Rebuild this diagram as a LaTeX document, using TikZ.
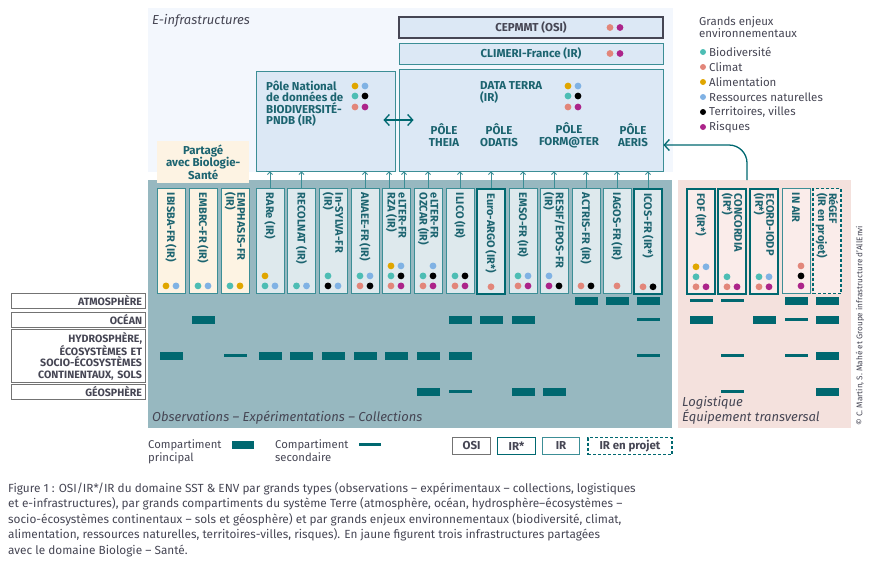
\documentclass[tikz,border=0pt]{standalone}
\usepackage{fontspec}
\setmainfont{Fira Sans}
\usepackage{graphicx}
\usetikzlibrary{arrows.meta, positioning, calc}
\definecolor{sstTeal}{RGB}{0,104,112}
\definecolor{sstLine}{RGB}{60,142,150}
\definecolor{sstText}{RGB}{28,100,112}
\definecolor{sstGrey}{RGB}{70,70,84}
\definecolor{sstEinfra}{RGB}{243,247,253}
\definecolor{sstBox}{RGB}{220,232,245}
\definecolor{sstObs}{RGB}{151,184,192}
\definecolor{sstCol}{RGB}{222,233,237}
\definecolor{sstCream}{RGB}{253,243,227}
\definecolor{sstLogi}{RGB}{244,225,221}
\definecolor{sstLogiCol}{RGB}{250,236,234}
\definecolor{eBio}{RGB}{77,189,180}
\definecolor{eCli}{RGB}{226,134,122}
\definecolor{eAli}{RGB}{224,166,0}
\definecolor{eRes}{RGB}{128,178,228}
\definecolor{eTer}{RGB}{0,0,0}
\definecolor{eRis}{RGB}{172,36,138}
\newcommand{\lblfont}{\bfseries\fontsize{11.5}{12}\selectfont}
\newcommand{\vtxt}[1]{\rotatebox{-90}{\parbox{96pt}{\raggedright #1}}}
\newcommand{\pastilles}[2]{\foreach \col/\dx/\dy in {#2} \fill[\col] ($(#1.south)+(\dx,\dy)$) circle (3.4pt);}

\begin{document}
\begin{tikzpicture}[x=1pt, y=-1pt,
        area/.style={rectangle, inner sep=0, anchor=north west},
        ebox/.style={rectangle, fill=sstBox, draw=sstLine, line width=0.9pt, inner sep=0,
                     font=\lblfont, text=sstText},
        colbox/.style={rectangle, minimum width=28pt, minimum height=105pt, inner sep=0, anchor=north,
                       font=\bfseries\fontsize{11}{11}\selectfont, text=sstText},
        ir/.style={draw=sstLine, line width=0.9pt},
        irstar/.style={draw=sstTeal, line width=1.8pt},
        projet/.style={draw=sstTeal, line width=1.3pt, dash pattern=on 3pt off 2pt},
        osi/.style={draw=sstGrey, line width=1.2pt},
        comp/.style={rectangle, draw=black!55, line width=0.9pt, fill=white, anchor=north east,
                     minimum width=134pt, text width=127pt, align=right, inner sep=0,
                     font=\bfseries\fontsize{10.6}{11.5}\selectfont, text=sstGrey},
        main/.style={fill=sstTeal, minimum width=23pt, minimum height=8pt, inner sep=0},
        sec/.style={fill=sstTeal, minimum width=23pt, minimum height=3pt, inner sep=0},
        up/.style={-{Straight Barb[length=2.5pt,width=5pt]}, sstLine, line width=0.9pt},
        link/.style={{Straight Barb[length=5pt,width=11pt]}-{Straight Barb[length=5pt,width=11pt]},
                     sstTeal, line width=1.3pt},
        titre/.style={font=\itshape\fontsize{13}{15}\selectfont, text=sstGrey, inner sep=0, anchor=west},
        lbl/.style={font=\lblfont, text=sstText, inner sep=0},
        legbox/.style={rectangle, fill=white, minimum height=17pt, inner sep=0, font=\lblfont, text=sstGrey},
        legtxt/.style={anchor=north west, align=left, inner sep=0, font=\fontsize{11.3}{13}\selectfont, text=sstGrey}
    ]
    \useasboundingbox (0,0) rectangle (875,566);

    % Fonds
    \node[area, fill=sstEinfra, minimum width=525pt, minimum height=164pt] (einfra) at (148,8) {};
    \node[area, fill=sstObs, minimum width=524pt, minimum height=248pt] (obs) at (148,180) {};
    \node[area, fill=sstLogi, minimum width=173pt, minimum height=248pt] (logi) at (678,180) {};
    \node[area, fill=sstCream, minimum width=92pt, minimum height=42pt, align=center,
          font=\bfseries\fontsize{11.5}{12.5}\selectfont, text=sstText] (partage) at (157,141) {Partagé\\avec Biologie-\\Santé};

    \node[titre] (einfra-t) at (152,21) {E-infrastructures};
    \node[titre] (obs-t) at (152,418) {Observations – Expérimentations – Collections};
    \node[titre, align=left] (logi-t) at (682,410.5) {Logistique\\Équipement transversal};

    % E-infrastructures
    \node[ebox, osi, minimum width=264pt, minimum height=21pt, text=sstGrey] (cepmmt) at (531,27.5) {CEPMMT (OSI)};
    \node[ebox, minimum width=264pt, minimum height=21pt] (climeri) at (531,53.5) {CLIMERI-France (IR)};
    \node[ebox, minimum width=264pt, minimum height=102pt] (terra) at (531,120) {};
    \node[ebox, minimum width=139pt, minimum height=100pt] (pndb) at (325.5,121) {};
    \node[lbl, anchor=north west, align=left] (terra-t) at (480,81) {DATA TERRA\\(IR)};
    \node[lbl, anchor=north west, align=left, font=\bfseries\fontsize{11.5}{11.3}\selectfont] (pndb-t) at (266,81)
        {Pôle National\\de données de\\BIODIVERSITÉ-\\PNDB (IR)};
    \node[lbl, align=center] (theia) at (444,135) {PÔLE\\THEIA};
    \node[lbl, align=center] (odatis) at (499,135) {PÔLE\\ODATIS};
    \node[lbl, align=center] (formater) at (569,135) {PÔLE\\FORM@TER};
    \node[lbl, align=center] (aeris) at (633,135) {PÔLE\\AERIS};

    \foreach \col/\x/\y in {eCli/610/27.5, eRis/620/27.5, eCli/610/53.5, eRis/620/53.5,
                            eAli/568/86, eRes/578/86, eBio/568/96, eTer/578/96, eCli/568/107, eRis/578/107,
                            eAli/355/86, eRes/365/86, eBio/355/96, eTer/365/96, eCli/355/107, eRis/365/107}
        \fill[\col] (\x,\y) circle (3.4pt);

    \draw[link] ($(pndb.east |- 0,120)+(-12,0)$) -- ($(terra.west |- 0,120)+(15,0)$);

    % Observations - Experimentations - Collections
    \node[colbox, ir, fill=sstCream] (ibisba) at (171,188) {\vtxt{IBISBA-FR (IR)}};
    \node[colbox, ir, fill=sstCream] (embrc) at (203,188) {\vtxt{EMBRC-FR (IR)}};
    \node[colbox, ir, fill=sstCream] (emphasis) at (235,188) {\vtxt{EMPHASIS-FR\\(IR)}};
    \node[colbox, ir, fill=sstCol] (rare) at (270,188) {\vtxt{RARe (IR)}};
    \node[colbox, ir, fill=sstCol] (recolnat) at (301.5,188) {\vtxt{RECOLNAT (IR)}};
    \node[colbox, ir, fill=sstCol] (insylva) at (333,188) {\vtxt{In-SYLVA-FR\\(IR)}};
    \node[colbox, ir, fill=sstCol] (anaee) at (365,188) {\vtxt{ANAEE-FR (IR)}};
    \node[colbox, ir, fill=sstCol] (rza) at (396,188) {\vtxt{eLTER-FR\\RZA (IR)}};
    \node[colbox, ir, fill=sstCol] (ozcar) at (428,188) {\vtxt{eLTER-FR\\OZCAR (IR)}};
    \node[colbox, ir, fill=sstCol] (ilico) at (460,188) {\vtxt{ILICO (IR)}};
    \node[colbox, irstar, fill=sstCol] (argo) at (491,188) {\vtxt{Euro-ARGO (IR*)}};
    \node[colbox, ir, fill=sstCol] (emso) at (523,188) {\vtxt{EMSO-FR (IR)}};
    \node[colbox, ir, fill=sstCol] (resif) at (554,188) {\vtxt{RESIF/EPOS-FR\\(IR)}};
    \node[colbox, ir, fill=sstCol] (actris) at (586,188) {\vtxt{ACTRIS-FR (IR)}};
    \node[colbox, ir, fill=sstCol] (iagos) at (617,188) {\vtxt{IAGOS-FR (IR)}};
    \node[colbox, irstar, fill=sstCol] (icos) at (648,188) {\vtxt{ICOS-FR (IR*)}};

    % Logistique
    \node[colbox, irstar, fill=sstLogiCol] (fof) at (701,188) {\vtxt{FOF (IR*)}};
    \node[colbox, irstar, fill=sstLogiCol] (concordia) at (732,188) {\vtxt{CONCORDIA\\(IR*)}};
    \node[colbox, irstar, fill=sstLogiCol] (ecord) at (764,188) {\vtxt{ECORD-IODP\\(IR*)}};
    \node[colbox, ir, fill=sstLogiCol] (inair) at (796,188) {\vtxt{IN AIR}};
    \node[colbox, projet, fill=sstLogiCol] (regef) at (827,188) {\vtxt{RéGEF\\(IR en projet)}};

    % Grands enjeux par infrastructure
    \pastilles{ibisba}{eAli/-5/-8, eRes/5/-8}
    \pastilles{embrc}{eBio/-5/-8, eRes/5/-8}
    \pastilles{emphasis}{eBio/-5/-8, eAli/5/-8}
    \pastilles{rare}{eAli/-5/-18, eBio/-5/-8, eRes/5/-8}
    \pastilles{recolnat}{eBio/-5/-8, eRes/5/-8}
    \pastilles{insylva}{eBio/-5/-18, eTer/-5/-8, eRes/5/-8}
    \pastilles{anaee}{eBio/-5/-18, eRes/5/-18, eCli/-5/-8, eTer/5/-8}
    \pastilles{rza}{eAli/-5/-28, eRes/5/-28, eBio/-5/-18, eTer/5/-18, eCli/-5/-8, eRis/5/-8}
    \pastilles{ozcar}{eRes/5/-28, eBio/-5/-18, eTer/5/-18, eCli/-5/-8, eRis/5/-8}
    \pastilles{ilico}{eBio/-5/-18, eTer/5/-18, eCli/-5/-8, eRis/5/-8}
    \pastilles{argo}{eCli/0/-8}
    \pastilles{emso}{eBio/-5/-18, eRes/5/-18, eCli/-5/-8, eRis/5/-8}
    \pastilles{resif}{eRes/-5/-18, eRis/-5/-8, eTer/5/-8}
    \pastilles{actris}{eCli/-5/-8, eTer/5/-8}
    \pastilles{iagos}{eCli/0/-8}
    \pastilles{icos}{eCli/-5/-8, eTer/5/-8}
    \pastilles{fof}{eAli/-5/-28, eRes/5/-28, eBio/-5/-18, eCli/-5/-8, eRis/5/-8}
    \pastilles{concordia}{eBio/-5/-18, eCli/-5/-8, eRis/5/-8}
    \pastilles{ecord}{eBio/-5/-18, eRes/5/-18, eCli/-5/-8, eRis/5/-8}
    \pastilles{inair}{eCli/5/-28, eTer/5/-18, eRis/5/-8}

    % Liens vers les e-infrastructures
    \foreach \c in {rare, recolnat, anaee}
        \draw[up] (\c.north) -- (pndb.south -| \c.north);
    \draw[up] ($(rza.north)+(-7,0)$) -- ($(pndb.south -| rza.north)+(-7,0)$);
    \draw[up] ($(rza.north)+(8,0)$) -- ($(terra.south -| rza.north)+(8,0)$);
    \foreach \c in {ozcar, ilico, argo, emso, resif, actris, iagos, icos}
        \draw[up] (\c.north) -- (terra.south -| \c.north);
    \coordinate (logi-out) at (747,180);
    \draw[-{Straight Barb[length=5pt,width=11pt]}, sstTeal, line width=1.3pt, rounded corners=18pt]
        (logi-out) |- (terra.east |- 0,145);

    % Compartiments
    \node[comp, minimum height=15pt] (atmo) at (146,293) {ATMOSPHÈRE};
    \node[comp, minimum height=15pt] (ocean) at (146,312) {OCÉAN};
    \node[comp, minimum height=53pt] (hydro) at (146,329) {HYDROSPHÈRE,\\ÉCOSYSTÈMES ET\\SOCIO-ÉCOSYSTÈMES\\CONTINENTAUX, SOLS};
    \node[comp, minimum height=15pt] (geo) at (146,384) {GÉOSPHÈRE};

    \foreach \c/\r in {actris/atmo, iagos/atmo, icos/atmo, inair/atmo, regef/atmo,
                       embrc/ocean, ilico/ocean, argo/ocean, emso/ocean, fof/ocean, ecord/ocean, regef/ocean,
                       ibisba/hydro, rare/hydro, recolnat/hydro, insylva/hydro, anaee/hydro, rza/hydro,
                       ozcar/hydro, ilico/hydro, regef/hydro,
                       ozcar/geo, emso/geo, resif/geo, regef/geo}
        \node[main] (\c-\r) at (\c |- \r) {};
    \foreach \c/\r in {fof/atmo, concordia/atmo, icos/ocean, inair/ocean, emphasis/hydro, icos/hydro,
                       concordia/hydro, inair/hydro, ilico/geo, concordia/geo}
        \node[sec] (\c-\r) at (\c |- \r) {};

    % Grands enjeux
    \node[anchor=north west, align=left, inner sep=0, font=\fontsize{11.5}{12}\selectfont, text=sstGrey]
        (enjeux) at (699,16) {Grands enjeux\\environnementaux};
    \foreach \col/\t [count=\i] in {eBio/Biodiversité, eCli/Climat, eAli/Alimentation,
                                    eRes/Ressources naturelles, eTer/{Territoires, villes}, eRis/Risques} {
        \fill[\col] (703,{37+15*\i}) circle (3pt);
        \node[anchor=west, inner sep=0, font=\fontsize{11.5}{12}\selectfont, text=sstGrey] (enjeu-\i) at (709,{37+15*\i}) {\t};
    }

    % Legende
    \node[legtxt] (leg-principal) at (148,439) {Compartiment\\principal};
    \node[main, minimum width=22pt] (leg-main) at (243,445) {};
    \node[legtxt] (leg-secondaire) at (275,439) {Compartiment\\secondaire};
    \node[sec, minimum width=22pt] (leg-sec) at (369.5,444) {};
    \node[legbox, draw=black!55, line width=1pt, minimum width=38pt] (leg-osi) at (471.5,446) {OSI};
    \node[legbox, irstar, minimum width=38pt] (leg-irstar) at (516.5,446) {IR*};
    \node[legbox, ir, minimum width=37pt] (leg-ir) at (561,446) {IR};
    \node[legbox, projet, minimum width=84pt] (leg-projet) at (630,446) {IR en projet};

    \node[rotate=90, anchor=west, inner sep=0, font=\fontsize{8.2}{9}\selectfont, text=sstGrey]
        (credit) at (860,426) {© C. Martin, S. Mahé et Groupe infrastructure d'AllEnvi};

    \node[anchor=north west, align=left, inner sep=0, font=\fontsize{11.8}{15.5}\selectfont, text=sstGrey] (legende) at (8,482)
        {Figure 1 : OSI/IR*/IR du domaine SST \& ENV par grands types (observations – expérimentaux – collections, logistiques\\
         et e-infrastructures), par grands compartiments du système Terre (atmosphère, océan, hydrosphère–écosystèmes –\\
         socio-écosystèmes continentaux – sols et géosphère) et par grands enjeux environnementaux (biodiversité, climat,\\
         alimentation, ressources naturelles, territoires-villes, risques). En jaune figurent trois infrastructures partagées\\
         avec le domaine Biologie – Santé.};
\end{tikzpicture}
\end{document}
